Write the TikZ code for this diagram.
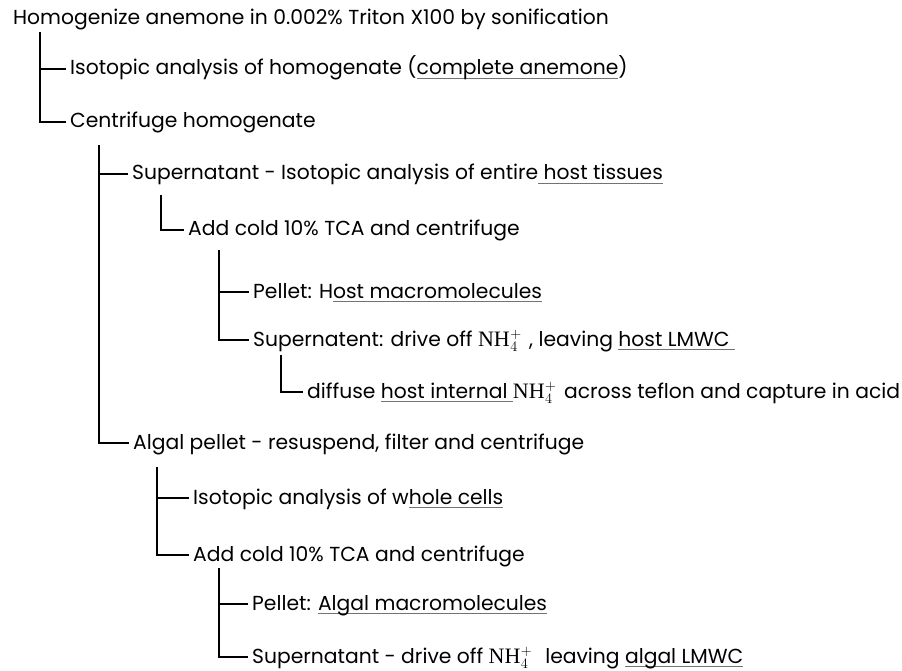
\documentclass[tikz,border=0pt]{standalone}
\usepackage{fontspec}
\setmainfont{Poppins}
\newfontfamily\tnr{Liberation Serif}
\usepackage{xcolor}
\definecolor{ulgray}{gray}{0.45}
\newcommand\myul[1]{\setbox0\hbox{#1}\rlap{\textcolor{ulgray}{\rule[-4pt]{\wd0}{1pt}}}\box0\relax}
\newcommand\nhf{{\fontsize{22}{24}\selectfont\tnr NH\kern0.5pt$_4^+$\kern2pt}}
\begin{document}
\begin{tikzpicture}[x=1pt,y=-1pt,
  lbl/.style={anchor=west, inner xsep=4pt, inner ysep=0pt, text height=12pt, text depth=0pt, font=\fontsize{20.3}{24}\selectfont},
  conn/.style={line width=1.3pt, black}]
\useasboundingbox (0,0) rectangle (902,671);
\node[lbl] (n1)  at (9,19)    {Homogenize anemone in 0.002\% Triton X100 by sonification};
\node[lbl] (n2)  at (66,69)   {Isotopic analysis of homogenate (\myul{complete anemone})};
\node[lbl] (n3)  at (66,122)  {Centrifuge homogenate};
\node[lbl] (n4)  at (128,174) {Supernatant - Isotopic analysis of entire\myul{ host tissues}};
\node[lbl] (n5)  at (184,230) {Add cold 10\% TCA and centrifuge};
\node[lbl] (n6)  at (249,292) {Pellet: H\myul{ost macromolecules}};
\node[lbl] (n7)  at (249,340) {Supernatent: drive off \nhf\ , leaving \myul{host LMWC }};
\node[lbl] (n8)  at (303,392) {diffuse \myul{host internal }\nhf\ across teflon and capture in acid};
\node[lbl] (n9)  at (129,443) {Algal pellet - resuspend, filter and centrifuge};
\node[lbl] (n10) at (189,498) {Isotopic analysis of w\myul{hole cells}};
\node[lbl] (n11) at (189,555) {Add cold 10\% TCA and centrifuge};
\node[lbl] (n12) at (248,604) {Pellet: \myul{Algal macromolecules}};
\node[lbl] (n13) at (248,657) {Supernatant - drive off \nhf\ \ leaving \myul{algal LMWC}};
\coordinate (t1) at (40,32);
\coordinate (t2) at (99,145);
\coordinate (t3) at (161,195);
\coordinate (t4) at (219,250);
\coordinate (t5) at (281,355);
\coordinate (t6) at (157,467);
\coordinate (t7) at (219,568);
\draw[conn] (t1) |- (n3.west);
\draw[conn] (t1 |- n2.west) -- (n2.west);
\draw[conn] (t2) |- (n9.west);
\draw[conn] (t2 |- n4.west) -- (n4.west);
\draw[conn] (t3) |- (n5.west);
\draw[conn] (t4) |- (n7.west);
\draw[conn] (t4 |- n6.west) -- (n6.west);
\draw[conn] (t5) |- (n8.west);
\draw[conn] (t6) |- (n11.west);
\draw[conn] (t6 |- n10.west) -- (n10.west);
\draw[conn] (t7) |- (n13.west);
\draw[conn] (t7 |- n12.west) -- (n12.west);
\end{tikzpicture}
\end{document}
